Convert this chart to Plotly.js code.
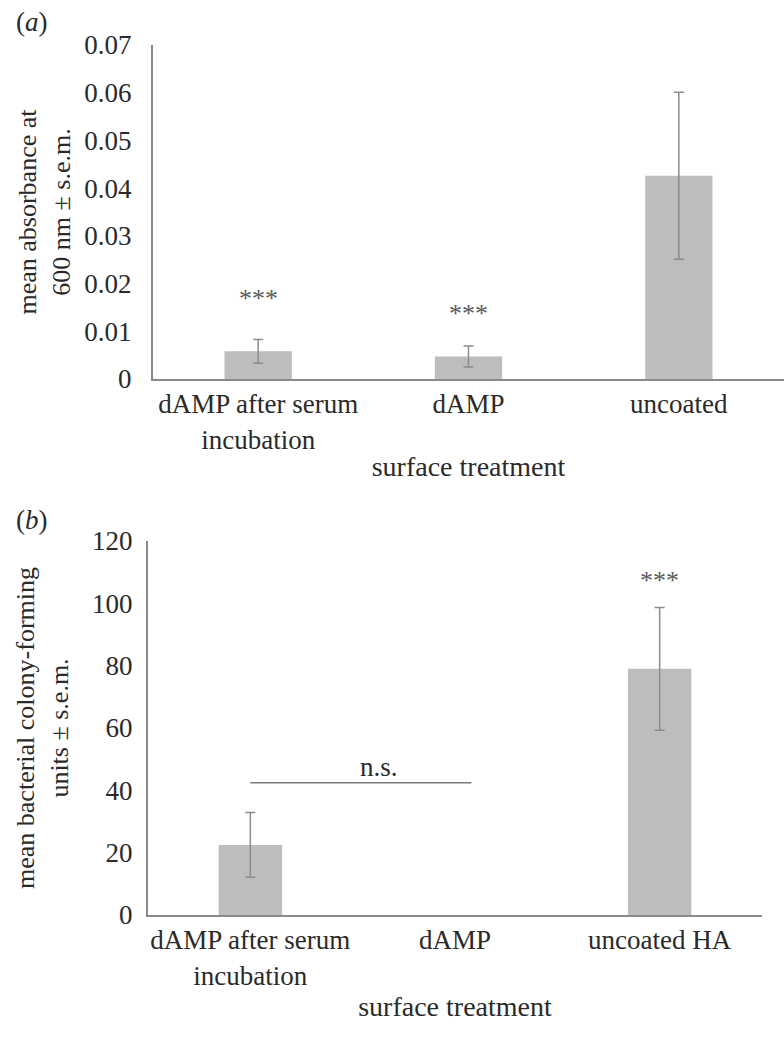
<!DOCTYPE html>
<html>
<head>
<meta charset="utf-8">
<script src="https://cdn.plot.ly/plotly-3.0.1.min.js"></script>
<style>html,body{margin:0;padding:0;background:#fff;}#chart{width:784px;height:1048px;}</style>
</head>
<body>
<div id="chart"></div>
<script>
// Panel (a): absorbance
const catsA = ["dAMP after serum<br>incubation", "dAMP", "uncoated"];
const meanA = [0.0058, 0.0047, 0.0426];
const semA = [0.0025, 0.0022, 0.0175];
const starsA = ["***", "***", ""];
const starYA = [0.0168, 0.0137, null];

// Panel (b): colony-forming units
const catsB = ["dAMP after serum<br>incubation", "dAMP", "uncoated HA"];
const meanB = [22.5, 0, 79];
const semB = [10.4, NaN, 19.7];
const starsB = ["", "", "***"];
const starYB = [null, null, 107.3];
const nsLabel = "n.s.";
const nsY = 42.4;

const FONT = "Liberation Serif, Times New Roman, serif";
const TXT = "#2a2a2a";
const BAR = "#bdbdc0";
const AX = "#8a8a8a";

const traces = [
  {type: "bar", x: catsA, y: meanA, xaxis: "x", yaxis: "y", width: 0.32,
   marker: {color: BAR}, showlegend: false, hoverinfo: "x+y",
   error_y: {type: "data", array: semA, visible: true, color: "#8c8c8c", thickness: 1.5, width: 5}},
  {type: "bar", x: catsB, y: meanB, xaxis: "x2", yaxis: "y2", width: 0.31,
   marker: {color: BAR}, showlegend: false, hoverinfo: "x+y",
   error_y: {type: "data", array: semB, visible: true, color: "#8c8c8c", thickness: 1.5, width: 5}}
];

const annotations = [];
catsA.forEach((c, i) => { if (starsA[i]) annotations.push({xref: "x", yref: "y", x: c, y: starYA[i], text: starsA[i], showarrow: false, font: {family: FONT, size: 26, color: "#5a5a5a"}}); });
catsB.forEach((c, i) => { if (starsB[i]) annotations.push({xref: "x2", yref: "y2", x: c, y: starYB[i], text: starsB[i], showarrow: false, font: {family: FONT, size: 26, color: "#5a5a5a"}}); });
annotations.push({xref: "x2", yref: "y2", x: 0.63, y: nsY + 5, text: nsLabel, showarrow: false, font: {family: FONT, size: 27, color: TXT}});
annotations.push({xref: "paper", yref: "paper", x: 14/784, y: 1 - 22/1048, xanchor: "left", yanchor: "middle", text: "(<i>a</i>)", showarrow: false, font: {family: FONT, size: 27, color: TXT}});
annotations.push({xref: "paper", yref: "paper", x: 14/784, y: 1 - 520/1048, xanchor: "left", yanchor: "middle", text: "(<i>b</i>)", showarrow: false, font: {family: FONT, size: 27, color: TXT}});

const axCommon = {showgrid: false, zeroline: false, showline: true, linecolor: AX, linewidth: 2, ticks: "", fixedrange: true};
const xTick = {family: FONT, size: 27, color: TXT};
const yTick = {family: FONT, size: 27, color: TXT};

const layout = {
  width: 784, height: 1048,
  margin: {l: 0, r: 0, t: 0, b: 0},
  paper_bgcolor: "#fff", plot_bgcolor: "#fff",
  font: {family: FONT, size: 26, color: TXT},
  showlegend: false,
  xaxis: Object.assign({}, axCommon, {domain: [153/784, 1], anchor: "y", range: [-0.5, 2.5], tickfont: xTick,
    title: {text: "surface treatment", font: {family: FONT, size: 28, color: TXT}, standoff: 3}}),
  yaxis: Object.assign({}, axCommon, {domain: [1 - 379/1048, 1 - 45/1048], anchor: "x", range: [0, 0.07], dtick: 0.01, tickformat: ".2~f", ticklabelstandoff: 14, tickfont: yTick,
    title: {text: "mean absorbance at<br>600 nm ± s.e.m.", font: {family: FONT, size: 26, color: TXT}, standoff: 6}}),
  xaxis2: Object.assign({}, axCommon, {domain: [148/784, 762/784], anchor: "y2", range: [-0.5, 2.5], tickfont: xTick,
    title: {text: "surface treatment", font: {family: FONT, size: 28, color: TXT}, standoff: 7}}),
  yaxis2: Object.assign({}, axCommon, {domain: [1 - 915/1048, 1 - 541/1048], anchor: "x2", range: [0, 120], dtick: 20, ticklabelstandoff: 8, tickfont: yTick,
    title: {text: "mean bacterial colony-forming<br>units ± s.e.m.", font: {family: FONT, size: 26, color: TXT}, standoff: 16}}),
  shapes: [
    {type: "line", xref: "x2", yref: "y2", x0: 0, x1: 1.08, y0: nsY, y1: nsY, line: {color: "#7a7a7a", width: 1.5}}
  ],
  annotations: annotations
};

Plotly.newPlot("chart", traces, layout, {displayModeBar: false, staticPlot: true});
</script>
</body>
</html>
